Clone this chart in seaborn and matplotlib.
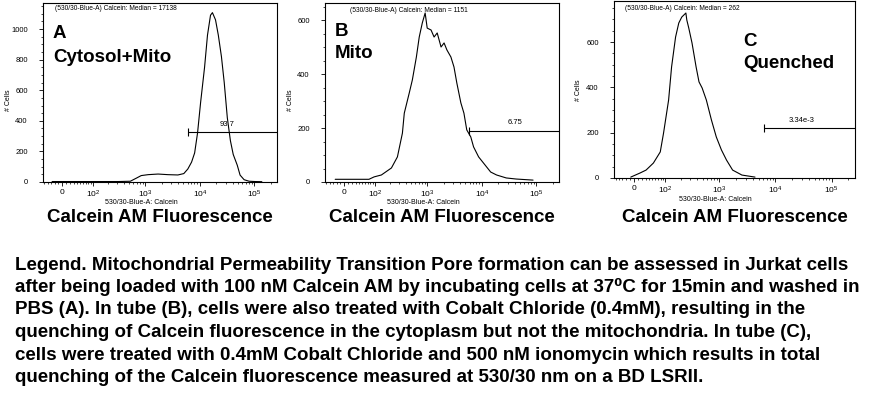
import matplotlib
matplotlib.use("Agg")
import matplotlib.pyplot as plt
import seaborn as sns
from matplotlib.ticker import FixedLocator, FixedFormatter, MultipleLocator

sns.set_style("ticks")
plt.rcParams['font.family'] = ['Liberation Sans', 'DejaVu Sans']
plt.rcParams['mathtext.default'] = 'regular'
plt.rcParams['text.color'] = 'black'
plt.rcParams['xtick.color'] = 'black'
plt.rcParams['ytick.color'] = 'black'

W, H = 875, 393

# ------------------------------
# DATA
# ------------------------------
# A: Cytosol+Mito
a_x = [-27, 40, 130, 318, 529, 681, 840, 1127, 1715, 2604, 3962, 5089, 6034, 7070,
       8050, 9100, 10360, 12250, 13860, 15750, 17080, 19460, 21910, 24990, 28140,
       32060, 36540, 41160, 48790, 55020, 65240, 80500, 103000, 138000]
a_counts = [3, 3, 3, 3, 5, 25, 42, 48, 52, 48, 46, 55, 85, 130, 190, 320, 520, 750,
            960, 1090, 1107, 1060, 960, 820, 650, 420, 270, 180, 110, 45, 15, 5, 3, 2]

# B: Mito
b_x = [-24, 21, 74, 97, 137, 215, 279, 346, 375, 464, 529, 628, 709, 807, 911, 994,
       1170, 1330, 1518, 1786, 2030, 2290, 2710, 3087, 3480, 4130, 4700, 5300, 6280,
       7070, 8750, 10780, 14560, 18690, 28140, 42840, 87500]
b_counts = [10, 10, 10, 19, 26, 52, 93, 181, 255, 330, 378, 463, 537, 589, 626, 570,
            563, 537, 552, 500, 515, 489, 463, 426, 367, 293, 255, 193, 167, 130, 93,
            70, 37, 26, 15, 11, 7]

# C: Quenched
c_x = [-8, 15, 31, 53, 78, 92, 117, 134, 160, 184, 209, 249, 259, 281, 322, 382, 431,
       491, 584, 720, 880, 1086, 1340, 1720, 2520, 4320]
c_counts = [4, 22, 35, 66, 115, 198, 344, 490, 622, 684, 710, 728, 697, 662, 596, 490,
            424, 397, 344, 256, 181, 124, 79, 35, 13, 4]

letters = ["A", "B", "C"]
names = ["Cytosol+Mito", "Mito", "Quenched"]
medians = [17138, 1151, 262]
gate_start = [6000, 5740, 6300]
gate_level = [327, 189, 220]
gate_labels = ["93.7", "6.75", "3.34e-3"]
y_max = [1170, 663, 781]
y_ticks = [[0, 200, 400, 600, 800, 1000], [0, 200, 400, 600], [0, 200, 400, 600]]

x_ticks = [0, 100, 1000, 10000, 100000]
x_ticklabels = ["0", "$10^{2}$", "$10^{3}$", "$10^{4}$", "$10^{5}$"]
x_minor = ([-50, -40, -30, -20, -10, 10, 20, 30, 40, 50, 60, 70, 80, 90]
           + [m * 10 ** d for d in (2, 3, 4) for m in range(2, 10)] + [200000])

legend_lines = [
    "Legend. Mitochondrial Permeability Transition Pore formation can be assessed in Jurkat cells",
    "after being loaded with 100 nM Calcein AM by incubating cells at 37\u2070C for 15min and washed in",
    "PBS (A). In tube (B), cells were also treated with Cobalt Chloride (0.4mM), resulting in the",
    "quenching of Calcein fluorescence in the cytoplasm but not the mitochondria. In tube (C),",
    "cells were treated with 0.4mM Cobalt Chloride and 500 nM ionomycin which results in total",
    "quenching of the Calcein fluorescence measured at 530/30 nm on a BD LSRII.",
]

# ------------------------------
# LAYOUT (pixel boxes: left, right, top, bottom)
# ------------------------------
boxes = [(43, 277, 3, 182), (325, 559, 3, 182), (614, 855, 1, 178)]
letter_pos = [(53, 33, 58), (335, 31, 53), (743, 42, 63)]
header_pos = [(55, 9), (350, 10), (625, 9)]
gate_text_pos = [(227, 124), (515, 122), (802, 120)]

fig = plt.figure(figsize=(W / 100, H / 100), dpi=100)


def ftext(px, py, s, **kw):
    fig.text(px / W, 1 - py / H, s, **kw)


series = [(a_x, a_counts), (b_x, b_counts), (c_x, c_counts)]

for i, (xs, ys) in enumerate(series):
    l, r, t, b = boxes[i]
    ax = fig.add_axes([l / W, 1 - b / H, (r - l) / W, (b - t) / H])
    ax.set_xscale('asinh', linear_width=60)

    sns.lineplot(x=xs, y=ys, ax=ax, color='black', linewidth=0.8,
                 estimator=None, sort=False)

    # gate marker
    ax.hlines(gate_level[i], gate_start[i], 262143, color='black', linewidth=0.8)
    ax.plot([gate_start[i]], [gate_level[i]], marker='|', markersize=6,
            color='black', markeredgewidth=0.8)

    ax.set_xlim(-55, 262143)
    ax.set_ylim(0, y_max[i])
    ax.xaxis.set_major_locator(FixedLocator(x_ticks))
    ax.xaxis.set_major_formatter(FixedFormatter(x_ticklabels))
    ax.xaxis.set_minor_locator(FixedLocator(x_minor))
    ax.set_yticks(y_ticks[i])
    ax.yaxis.set_minor_locator(MultipleLocator(50))

    ax.tick_params(axis='x', which='major', labelsize=6, length=3, width=0.6, pad=2)
    ax.tick_params(axis='x', which='minor', length=1.5, width=0.5)
    ax.tick_params(axis='y', which='major', labelsize=5.5, length=3, width=0.6, pad=8)
    ax.tick_params(axis='y', which='minor', length=1.5, width=0.5)
    for s in ax.spines.values():
        s.set_linewidth(0.8)
        s.set_color('black')
    ax.set_xlabel("")
    ax.set_ylabel("")

    ax.text(0.42, -0.115 if i < 2 else -0.12, "530/30-Blue-A: Calcein",
            transform=ax.transAxes, ha='center', va='center', fontsize=5)
    ftext(l - 35, 100 if i < 2 else 90, "# Cells", rotation=90, ha='center',
          va='center', fontsize=5)

    hx, hy = header_pos[i]
    ftext(hx, hy, f"(530/30-Blue-A) Calcein: Median = {medians[i]}",
          ha='left', va='center', fontsize=4.8)
    gx, gy = gate_text_pos[i]
    ftext(gx, gy, gate_labels[i], ha='center', va='center', fontsize=5.5)

    lx, ly1, ly2 = letter_pos[i]
    ftext(lx, ly1, letters[i], ha='left', va='center', fontsize=13.5, weight='bold')
    ftext(lx, ly2, names[i], ha='left', va='center', fontsize=13.5, weight='bold')

    ftext((l + r) / 2, 218, "Calcein AM Fluorescence", ha='center', va='center',
          fontsize=13.5, weight='bold')

for k, line in enumerate(legend_lines):
    ftext(15, 265 + k * 22.5, line, ha='left', va='center', fontsize=13.5, weight='bold')

fig.savefig("out.png", dpi=100)
